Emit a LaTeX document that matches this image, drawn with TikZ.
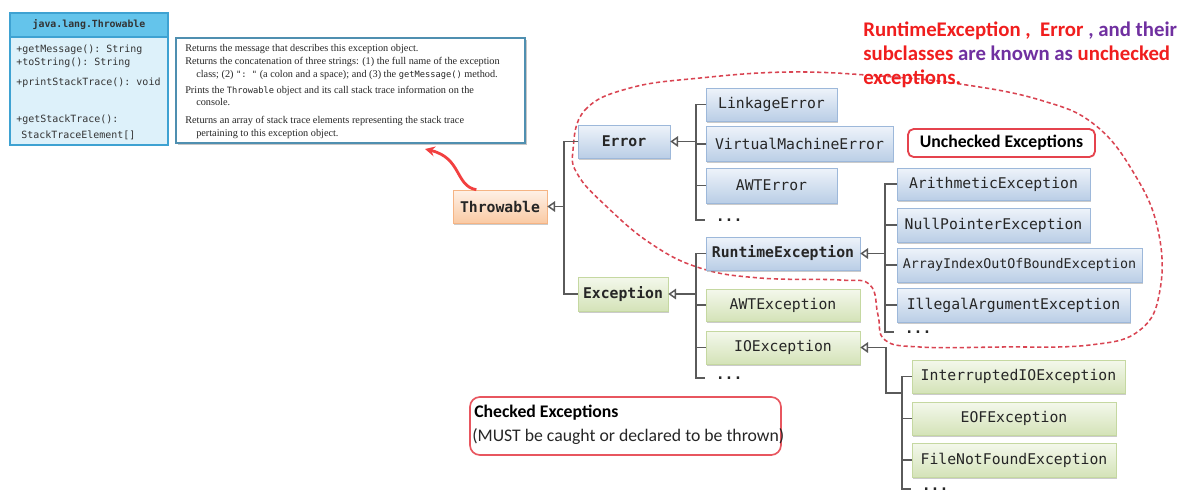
\documentclass[tikz,border=0pt]{standalone}
\usepackage{fontspec}
\setmonofont{DejaVu Sans Mono}
\newfontfamily\calibri{Carlito}
\newfontfamily\timesfont{Liberation Serif}
\usetikzlibrary{arrows.meta, shadows, calc}

\definecolor{blueTop}{HTML}{EEF3FA}
\definecolor{blueBot}{HTML}{BACEE6}
\definecolor{blueLine}{HTML}{9DB8DA}
\definecolor{greenTop}{HTML}{F4F8EC}
\definecolor{greenBot}{HTML}{D4E3B8}
\definecolor{greenLine}{HTML}{C5D8A1}
\definecolor{orangeTop}{HTML}{FEF1E7}
\definecolor{orangeBot}{HTML}{FACAA4}
\definecolor{orangeLine}{HTML}{F5B484}
\definecolor{linkGray}{HTML}{5A5A5A}
\definecolor{umlHead}{HTML}{64C4EB}
\definecolor{umlBody}{HTML}{DDF1FA}
\definecolor{umlLine}{HTML}{3EA2D2}
\definecolor{descLine}{HTML}{4F8FB0}
\definecolor{textRed}{HTML}{F01E1E}
\definecolor{textPurple}{HTML}{7030A0}
\definecolor{dashRed}{HTML}{D94452}
\definecolor{boxRed}{HTML}{E5434D}

\newcommand{\pxu}{0.025cm}
\newcommand{\figTri}{{Triangle[open, length=5.5pt, width=7.5pt]}}
\newcommand{\dtt}[1]{{\ttfamily\fontsize{6.2}{7}\selectfont #1}}

\begin{document}
\begin{tikzpicture}[x=0.025cm, y=-0.025cm,
	cls/.style={rectangle, inner sep=0pt, minimum height=33*\pxu, text=black!85,
		font=\ttfamily\fontsize{10.5}{12}\selectfont,
		drop shadow={shadow xshift=1pt, shadow yshift=-1.2pt, fill=black!45, opacity=0.45}},
	bluebox/.style={cls, draw=blueLine, top color=blueTop, bottom color=blueBot},
	greenbox/.style={cls, draw=greenLine, top color=greenTop, bottom color=greenBot},
	link/.style={draw=linkGray, line width=1.05pt},
	dotsnode/.style={anchor=west, inner xsep=7.5pt, inner ysep=0pt, text=black!85,
		font=\ttfamily\bfseries\fontsize{10.5}{12}\selectfont},
	desctext/.style={anchor=base west, inner sep=0pt, font=\timesfont\fontsize{7.3}{8}\selectfont, text=black!85},
	umltext/.style={anchor=west, inner sep=0pt, font=\ttfamily\fontsize{7.1}{8}\selectfont, text=black!80},
	redline/.style={anchor=base west, inner sep=0pt, font=\calibri\bfseries\fontsize{14.8}{17}\selectfont}]
	\useasboundingbox (0,0) rectangle (1180,502);

	% unchecked region
	\draw[dashRed, line width=1.1pt, dash pattern=on 3pt off 2pt]
		plot[smooth cycle, tension=0.7] coordinates {(573,150) (585,110) (630,88) (700,78) (790,72) (880,76)
		(960,84) (1040,100) (1095,125) (1135,175) (1158,230) (1160,290) (1140,330) (1090,345) (1000,347)
		(920,347) (885,340) (878,315) (870,285) (840,280) (760,278) (700,268) (650,243) (605,205) (578,175)};

	% UML class box
	\node[draw=umlLine, fill=umlBody, line width=1pt, minimum width=158*\pxu, minimum height=108*\pxu, inner sep=0pt,
		drop shadow={shadow xshift=1pt, shadow yshift=-1pt, fill=black!45, opacity=0.4}] (umlbody) at (89,91) {};
	\node[draw=umlLine, fill=umlHead, line width=1pt, minimum width=158*\pxu, minimum height=24*\pxu, inner sep=0pt,
		font=\ttfamily\bfseries\fontsize{7}{8}\selectfont, text=black!80] (umlhead) at (89,25) {java.lang.Throwable};
	\foreach \x/\y/\t in {16/50/{+getMessage(): String}, 16/63/{+toString(): String}, 16/83/{+printStackTrace(): void},
		16/120/{+getStackTrace():}, 21/135/{StackTraceElement[]}}
		\node[umltext] (m\y) at (\x,\y) {\t};

	% description box
	\node[draw=descLine, fill=white, line width=1pt, minimum width=349*\pxu, minimum height=105*\pxu, inner sep=0pt,
		drop shadow={shadow xshift=1.2pt, shadow yshift=-1.2pt, fill=black!50, opacity=0.45}] (desc) at (350.5,90.5) {};
	\foreach \x/\y/\t in {185/49/{Returns the message that describes this exception object.},
		185/62/{Returns the concatenation of three strings: (1) the full name of the exception},
		196/75/{class; (2) \dtt{":\ "} (a colon and a space); and (3) the \dtt{getMessage()} method.},
		185/91/{Prints the \dtt{Throwable} object and its call stack trace information on the},
		196/103/{console.},
		185/121/{Returns an array of stack trace elements representing the stack trace},
		196/134/{pertaining to this exception object.}}
		\node[desctext] (d\y) at (\x,\y+2.5) {\t};

	% class tree
	\node[cls, draw=orangeLine, top color=orangeTop, bottom color=orangeBot, minimum width=94*\pxu, font=\ttfamily\bfseries\fontsize{10.5}{12}\selectfont] (throwable) at (500,206.5) {Throwable};
	\node[bluebox, minimum width=92*\pxu, font=\ttfamily\bfseries\fontsize{10.5}{12}\selectfont] (error) at (624,141.5) {Error};
	\node[greenbox, minimum width=90*\pxu, minimum height=34*\pxu, font=\ttfamily\bfseries\fontsize{10.5}{12}\selectfont] (exception) at (623,294) {Exception};

	\node[bluebox, minimum width=131*\pxu] (linkage) at (771.5,104.5) {LinkageError};
	\node[bluebox, minimum width=187*\pxu, minimum height=35*\pxu] (vmerror) at (799.5,144) {VirtualMachineError};
	\node[bluebox, minimum width=131*\pxu, minimum height=35*\pxu] (awterror) at (771.5,185.5) {AWTError};
	\node[dotsnode] (edots) at (705,220) {...};

	\node[bluebox, minimum width=154*\pxu, font=\ttfamily\bfseries\fontsize{10.5}{12}\selectfont] (runtime) at (783,253.5) {RuntimeException};
	\node[greenbox, minimum width=154*\pxu, minimum height=32*\pxu] (awtexc) at (783,305) {AWTException};
	\node[greenbox, minimum width=154*\pxu] (ioexc) at (783,347.5) {IOException};
	\node[dotsnode] (xdots) at (705,378) {...};

	\node[bluebox, minimum width=193*\pxu, minimum height=32*\pxu] (arith) at (993.5,184) {ArithmeticException};
	\node[bluebox, minimum width=193*\pxu, minimum height=34*\pxu] (nullptr) at (993.5,225) {NullPointerException};
	\node[bluebox, minimum width=245*\pxu, minimum height=34*\pxu, font=\ttfamily\fontsize{9.5}{11}\selectfont] (arrayidx) at (1019.5,265) {ArrayIndexOutOfBoundException};
	\node[bluebox, minimum width=233*\pxu, minimum height=34*\pxu] (illegal) at (1013.5,305) {IllegalArgumentException};
	\node[dotsnode] (rdots) at (894,332) {...};

	\node[greenbox, minimum width=213*\pxu] (interrupted) at (1018.5,376.5) {InterruptedIOException};
	\node[greenbox, minimum width=204*\pxu] (eofexc) at (1014,418.5) {EOFException};
	\node[greenbox, minimum width=204*\pxu, minimum height=34*\pxu] (filenf) at (1014,460) {FileNotFoundException};
	\node[dotsnode] (iodots) at (911,489) {...};

	\coordinate (tbar) at (564,0);
	\coordinate (ebar) at (696,0);
	\coordinate (rbar) at (885,0);
	\coordinate (iobar) at (902,0);
	\coordinate (ioturn) at (886,393);

	\draw[link, -\figTri] (tbar |- throwable) -- (throwable.east);
	\draw[link] (error.west) -| (tbar |- exception) -- (exception.west);

	\draw[link, -\figTri] (ebar |- error) -- (error.east);
	\draw[link] (linkage.west) -| (ebar |- edots) -- (edots.west);
	\foreach \n in {vmerror, awterror}
		\draw[link] (ebar |- \n) -- (\n.west);

	\draw[link, -\figTri] (ebar |- exception) -- (exception.east);
	\draw[link] (runtime.west) -| (ebar |- xdots) -- (xdots.west);
	\foreach \n in {awtexc, ioexc}
		\draw[link] (ebar |- \n) -- (\n.west);

	\draw[link, -\figTri] (rbar |- runtime) -- (runtime.east);
	\draw[link] (arith.west) -| (rbar |- rdots) -- (rdots.west);
	\foreach \n in {nullptr, arrayidx, illegal}
		\draw[link] (rbar |- \n) -- (\n.west);

	\draw[link, -\figTri] (iobar |- ioturn) -| (ioturn |- ioexc) -- (ioexc.east);
	\draw[link] (interrupted.west) -| (iobar |- iodots) -- (iodots.west);
	\foreach \n in {eofexc, filenf}
		\draw[link] (iobar |- \n) -- (\n.west);

	% red arrow to the method table
	\coordinate (tip) at (425,149);
	\draw[textRed!85!white, line width=2pt, -{Stealth[length=7pt, width=7pt]}]
		($(throwable.north west)!0.25!(throwable.north east)$) .. controls (455,186) and (462,158) .. (tip);

	% notes
	\node[redline, text=textRed] (note1) at (863,36) {RuntimeException ,\ \ Error \textcolor{textPurple}{, and their}};
	\node[redline, text=textRed] (note2) at (863,60) {subclasses \textcolor{textPurple}{are known as} unchecked};
	\node[redline, text=textRed] (note3) at (863,84) {exceptions.};

	\node[draw=boxRed, fill=white, line width=1.3pt, rounded corners=4pt, minimum width=187*\pxu, minimum height=28*\pxu,
		inner sep=0pt, font=\calibri\bfseries\fontsize{12.6}{14}\selectfont] (unchecked) at (1001.5,143) {Unchecked Exceptions};

	\node[draw=boxRed!90!white, line width=1.2pt, rounded corners=7pt, minimum width=311*\pxu, minimum height=58*\pxu,
		inner sep=0pt] (checked) at (625.5,426) {};
	\node[anchor=base west, inner sep=0pt, font=\calibri\bfseries\fontsize{12.6}{14}\selectfont] (chk1) at (474,417) {Checked Exceptions};
	\node[anchor=base west, inner sep=0pt, font=\calibri\fontsize{12.6}{14}\selectfont, text=black!85] (chk2) at (472,441) {(MUST be caught or declared to be thrown)};
\end{tikzpicture}
\end{document}
